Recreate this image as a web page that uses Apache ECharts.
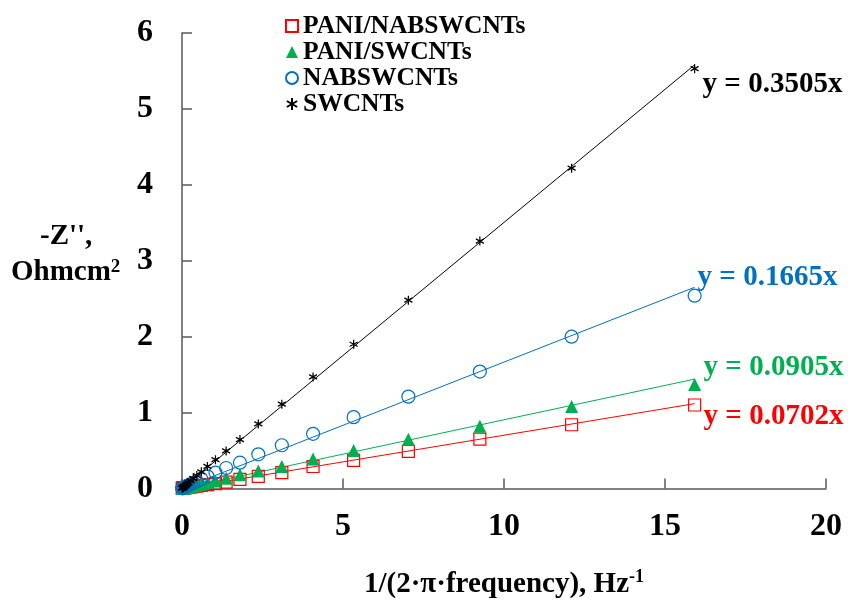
<!DOCTYPE html>
<html>
<head>
<meta charset="utf-8">
<script src="https://cdn.jsdelivr.net/npm/echarts@6/dist/echarts.min.js"></script>
<style>
  html, body { margin: 0; padding: 0; background: #fff; }
  #chart { width: 848px; height: 604px; }
</style>
</head>
<body>
<div id="chart"></div>
<script>
// 1/(2*pi*f) values, same for all four samples
const xValues = [15.92, 12.1, 9.25, 7.03, 5.33, 4.07, 3.1, 2.37, 1.8, 1.37, 1.04, 0.79, 0.6, 0.46,
  0.35, 0.27, 0.2, 0.155, 0.118, 0.09, 0.068, 0.052, 0.04, 0.03, 0.023, 0.018, 0.013, 0.01]

const paniNab = [1.10, 0.84, 0.65, 0.49, 0.37, 0.29, 0.21, 0.16, 0.12, 0.085, 0.065, 0.05, 0.04, 0.032,
  0.026, 0.021, 0.017, 0.014, 0.012, 0.01, 0.008, 0.007, 0.006, 0.005, 0.004, 0.003, 0.003, 0.002]
const paniSw = [1.37, 1.08, 0.82, 0.65, 0.50, 0.39, 0.29, 0.23, 0.18, 0.135, 0.1, 0.075, 0.057, 0.044,
  0.034, 0.026, 0.02, 0.016, 0.012, 0.009, 0.007, 0.006, 0.005, 0.004, 0.003, 0.002, 0.002, 0.001]
const nabSw = [2.54, 2.0, 1.54, 1.21, 0.94, 0.72, 0.57, 0.45, 0.34, 0.27, 0.21, 0.16, 0.125, 0.095,
  0.073, 0.056, 0.043, 0.034, 0.026, 0.02, 0.016, 0.012, 0.01, 0.008, 0.006, 0.005, 0.004, 0.003]
const swcnt = [5.53, 4.22, 3.26, 2.48, 1.9, 1.47, 1.11, 0.85, 0.645, 0.495, 0.38, 0.29, 0.22, 0.17,
  0.13, 0.1, 0.075, 0.058, 0.044, 0.034, 0.026, 0.02, 0.015, 0.012, 0.009, 0.007, 0.005, 0.004]

const names = ['PANI/NABSWCNTs', 'PANI/SWCNTs', 'NABSWCNTs', 'SWCNTs']
const slopes = [0.0702, 0.0905, 0.1665, 0.3505]
const xTicks = [0, 5, 10, 15, 20]
const yTicks = [0, 1, 2, 3, 4, 5, 6]

const font = 'Liberation Serif'
const colors = ['#ff0000', '#00b050', '#0070c0', '#000000']
const ys = [paniNab, paniSw, nabSw, swcnt]

const starPath = 'path://M0,0L0,10M-4.33,2.5L4.33,7.5M-4.33,7.5L4.33,2.5'
const symbols = ['rect', 'triangle', 'circle', starPath]
const sizes = [12, 13, 13, [8, 9]]
const labelOffsets = [[9, 13], [9, -12], [3, -10], [8, 20]]

const series = []
// trendlines first, markers on top
slopes.forEach((k, i) => {
  const xEnd = xValues[0]
  series.push({
    name: 'fit' + i,
    type: 'line',
    data: [[0, 0], [xEnd, k * xEnd]],
    symbol: 'none',
    lineStyle: { color: colors[i], width: 1 },
    silent: true,
    z: 2,
    endLabel: {
      show: true,
      formatter: 'y = ' + k.toFixed(4) + 'x',
      color: colors[i],
      fontFamily: font,
      fontWeight: 'bold',
      fontSize: 29,
      offset: labelOffsets[i],
      distance: 0
    }
  })
})
names.forEach((n, i) => {
  series.push({
    name: n,
    type: 'scatter',
    data: xValues.map((x, j) => [x, ys[i][j]]),
    symbol: symbols[i],
    symbolSize: sizes[i],
    z: 3 + i,
    itemStyle: i === 1
      ? { color: colors[i], opacity: 1 }
      : { color: 'rgba(255,255,255,0)', borderColor: colors[i], borderWidth: i === 3 ? 1.3 : 1.2, opacity: 1 }
  })
})

const chart = echarts.init(document.getElementById('chart'))
chart.setOption({
  animation: false,
  grid: { left: 182, right: 22, top: 33, bottom: 101.5, containLabel: false },
  legend: {
    data: names,
    orient: 'vertical',
    left: 285,
    top: 13,
    itemWidth: 12,
    itemHeight: 12,
    itemGap: 0,
    padding: 0,
    textStyle: { fontFamily: font, fontWeight: 'bold', fontSize: 25.5, lineHeight: 25, color: '#000' }
  },
  xAxis: {
    type: 'value',
    min: xTicks[0],
    max: xTicks[xTicks.length - 1],
    interval: 5,
    name: '1/(2·π·frequency), Hz{sup|-1}',
    nameLocation: 'middle',
    nameGap: 80,
    nameTextStyle: {
      fontFamily: font, fontWeight: 'bold', fontSize: 29, color: '#000',
      rich: { sup: { fontFamily: font, fontWeight: 'bold', fontSize: 18, color: '#000', padding: [0, 0, 14, 0] } }
    },
    axisLine: { lineStyle: { color: '#595959', width: 1.5 } },
    axisTick: { inside: true, length: 10, lineStyle: { color: '#595959', width: 1.5 } },
    splitLine: { show: false },
    axisLabel: { margin: 22, fontFamily: font, fontWeight: 'bold', fontSize: 32, color: '#000' }
  },
  yAxis: {
    type: 'value',
    min: yTicks[0],
    max: yTicks[yTicks.length - 1],
    interval: 1,
    axisLine: { show: true, lineStyle: { color: '#595959', width: 1.5 } },
    axisTick: { show: true, inside: true, length: 10, lineStyle: { color: '#595959', width: 1.5 } },
    splitLine: { show: false },
    axisLabel: { margin: 29, fontFamily: font, fontWeight: 'bold', fontSize: 32, color: '#000' }
  },
  graphic: [
    {
      type: 'text', left: 40, top: 222,
      style: { text: "-Z'',", fontFamily: font, fontWeight: 'bold', fontSize: 29, fill: '#000' }
    },
    {
      type: 'text', left: 11, top: 258,
      style: {
        text: 'Ohmcm{sup|2}', fontFamily: font, fontWeight: 'bold', fontSize: 29, fill: '#000',
        rich: { sup: { fontFamily: font, fontWeight: 'bold', fontSize: 19, fill: '#000', padding: [0, 0, 11, 0] } }
      }
    }
  ],
  series: series
})
</script>
</body>
</html>
